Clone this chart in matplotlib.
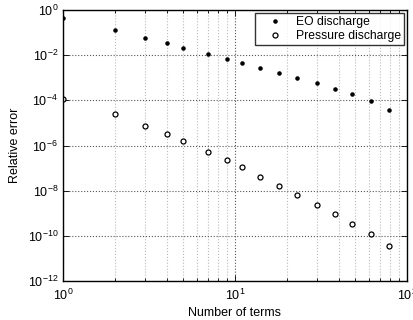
import numpy as np
import matplotlib.pyplot as plt
from matplotlib.ticker import LogLocator, NullFormatter

plt.rcParams['font.family'] = ['Liberation Sans', 'DejaVu Sans']

n_terms = [1, 2, 3, 4, 5, 7, 9, 11, 14, 18, 23, 30, 38, 48, 62, 79]
eo_err = [0.45, 0.13, 0.06, 0.034, 0.021, 0.011, 0.0066, 0.0045, 0.0028,
          0.0017, 0.001, 5.7e-4, 3.3e-4, 1.9e-4, 9.7e-5, 3.6e-5]
pressure_err = [1.1e-4, 2.4e-5, 7.6e-6, 3.2e-6, 1.6e-6, 5e-7, 2.3e-7, 1.1e-7,
                4.2e-8, 1.6e-8, 6.5e-9, 2.3e-9, 9.1e-10, 3.5e-10, 1.15e-10,
                3.4e-11]

fig = plt.figure(figsize=(4.14, 3.2), dpi=100)
ax = fig.add_axes([63 / 414, 1 - 281 / 320, (407 - 63) / 414, (281 - 10) / 320])

ax.loglog(n_terms, eo_err, linestyle="none", marker=".", color="black",
          markersize=4.5, label="EO discharge")
ax.loglog(n_terms, pressure_err, linestyle="none", marker="o", color="black",
          markerfacecolor="white", markersize=3.6, markeredgewidth=0.9,
          label="Pressure discharge")

ax.set_xlim(1, 100)
ax.set_ylim(1e-12, 1)
ax.set_yticks([10.0 ** k for k in range(-12, 1, 2)])
ax.yaxis.set_minor_locator(plt.NullLocator())
ax.xaxis.set_minor_locator(LogLocator(base=10, subs=np.arange(2, 10), numticks=20))
ax.xaxis.set_minor_formatter(NullFormatter())

ax.grid(True, which="major", linestyle=":", color="#555555", linewidth=0.8)
ax.grid(True, which="minor", axis="x", linestyle=":", color="#bbbbbb", linewidth=0.8)

ax.tick_params(which="both", direction="in", top=True, right=True,
               labelsize=9, width=0.6)
ax.tick_params(which="major", length=4)
ax.tick_params(which="minor", length=2)
ax.tick_params(axis="x", pad=5)
for s in ax.spines.values():
    s.set_linewidth(1.0)

ax.set_xlabel("Number of terms", fontsize=9, labelpad=3)
ax.set_ylabel("Relative error", fontsize=9, labelpad=5)

leg = ax.legend(loc="upper right", fontsize=8.7, frameon=True, fancybox=False,
                edgecolor="black", handlelength=2.8, handletextpad=0.3,
                borderpad=0.25, labelspacing=0.15, borderaxespad=0.25)
leg.get_frame().set_linewidth(1.0)

fig.savefig("out.png", dpi=100)
